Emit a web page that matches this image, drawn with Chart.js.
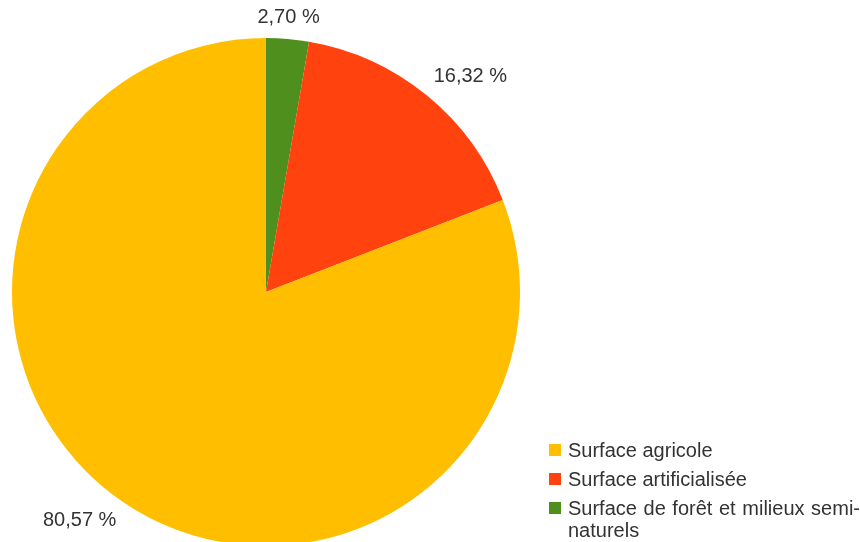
<!DOCTYPE html>
<html>
<head>
<meta charset="utf-8">
<script src="https://cdn.jsdelivr.net/npm/chart.js@4/dist/chart.umd.min.js"></script>
<style>
  html, body { margin: 0; padding: 0; background: #fff; overflow: hidden; }
  #wrap { position: absolute; left: 0; top: 0; width: 860px; height: 560px; }
  #legend { position: absolute; left: 549px; top: 439px; width: 311px;
    font-family: "Liberation Sans", Arial, sans-serif; font-size: 20px; color: #333; }
  .item { position: relative; padding-left: 19px; line-height: 22px; margin-bottom: 7px; text-align: justify; }
  .box { position: absolute; left: 0; top: 5px; width: 12px; height: 12px; }
</style>
</head>
<body>
<div id="wrap"><canvas id="c"></canvas></div>
<div id="legend"></div>
<script>
const labels = ['Surface agricole', 'Surface artificialisée', 'Surface de forêt et milieux semi-naturels'];
const values = [80.57, 16.32, 2.70];
const colors = ['#FFBF00', '#FF420E', '#4E8F1D'];

// the original runs counter-clockwise from 12 o'clock, so feed the slices reversed
const pieValues = values.slice().reverse();
const pieColors = colors.slice().reverse();
const pieLabels = labels.slice().reverse();

const fmt = v => v.toFixed(2).replace('.', ',') + ' %';

const outsideLabels = {
  id: 'outsideLabels',
  afterDatasetsDraw(chart) {
    const ctx = chart.ctx;
    const meta = chart.getDatasetMeta(0);
    ctx.save();
    ctx.font = '20px "Liberation Sans", Arial, sans-serif';
    ctx.fillStyle = '#333';
    meta.data.forEach((arc, i) => {
      const mid = (arc.startAngle + arc.endAngle) / 2;
      const r = arc.outerRadius + 11;
      const cx = Math.cos(mid), cy = Math.sin(mid);
      const x = arc.x + cx * r, y = arc.y + cy * r;
      ctx.textAlign = cx > 0.15 ? 'left' : (cx < -0.15 ? 'right' : 'center');
      ctx.textBaseline = cy < -0.15 ? 'bottom' : (cy > 0.15 ? 'top' : 'middle');
      ctx.fillText(fmt(pieValues[i]), x, y);
    });
    ctx.restore();
  }
};

new Chart(document.getElementById('c'), {
  type: 'pie',
  data: {
    labels: pieLabels,
    datasets: [{ data: pieValues, backgroundColor: pieColors, borderWidth: 0 }]
  },
  options: {
    responsive: true,
    maintainAspectRatio: false,
    animation: false,
    layout: { padding: { left: 12, right: 340, top: 38, bottom: 14 } },
    plugins: { legend: { display: false }, tooltip: { enabled: false } }
  },
  plugins: [outsideLabels]
});

const leg = document.getElementById('legend');
labels.forEach((l, i) => {
  const d = document.createElement('div');
  d.className = 'item';
  d.innerHTML = `<span class="box" style="background:${colors[i]}"></span>${l}`;
  leg.appendChild(d);
});
</script>
</body>
</html>
